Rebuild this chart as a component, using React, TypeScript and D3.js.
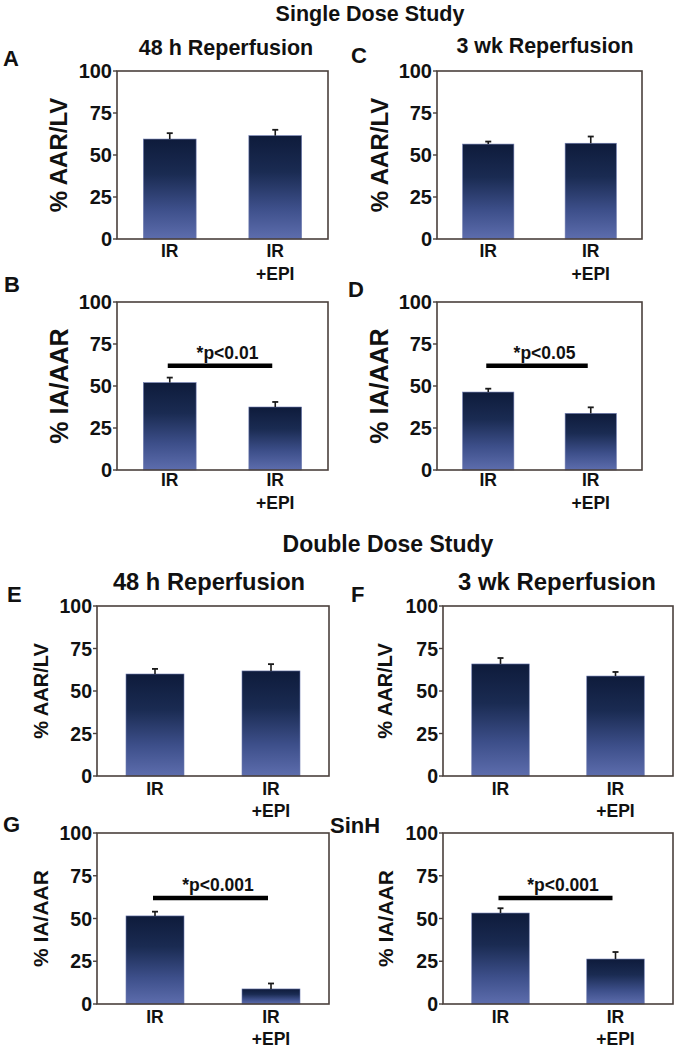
import React from "react";
import * as d3 from "d3";

// ---------- data ----------
const categories = ["IR", "IR+EPI"];
const yTicks = [0, 25, 50, 75, 100];

const meansA = [59.5, 61.5];
const semA = [3.5, 3.5];
const meansB = [52, 37.5];
const semB = [3, 3];
const meansC = [56.5, 57];
const semC = [1.5, 4];
const meansD = [46.4, 33.7];
const semD = [2, 3.6];
const meansE = [60, 61.8];
const semE = [3, 4];
const meansF = [65.9, 58.8];
const semF = [3.5, 2.4];
const meansG = [51.5, 8.8];
const semG = [2.5, 3.2];
const meansH = [53.2, 26.3];
const semH = [2.8, 4.1];

const sigLabels = ["*p<0.01", "*p<0.05", "*p<0.001", "*p<0.001"];
const sigLevel = 62;

const FONT = "'Liberation Sans', Arial, Helvetica, sans-serif";
const HEAD_FONT = "'Liberation Sans', Arial, sans-serif";

type PanelProps = {
  id: string;
  x0: number; x1: number; y0: number; y1: number;
  letter: string; letterX: number; letterY: number;
  title?: string; titleX?: number; titleY?: number; titleSize?: number;
  ylabel: string; ylabelX: number; ylabelSize: number;
  tickSize: number;
  cat1: number; cat2: number;
  means: number[]; sems: number[];
  sig?: string;
};

function Panel(p: PanelProps) {
  const x = d3.scaleBand<string>().domain(categories).range([p.x0, p.x1]).paddingInner(0.5).paddingOuter(0.25);
  const y = d3.scaleLinear().domain([0, 100]).range([p.y1, p.y0]);
  const bw = x.bandwidth();
  const c1 = (x(categories[0]) as number) + bw / 2;
  const c2 = (x(categories[1]) as number) + bw / 2;
  const gid = "grad-" + p.id;
  return (
    <g>
      <defs>
        <linearGradient id={gid} x1="0" y1="0" x2="0" y2="1">
          <stop offset="0" stopColor="#0e1b3b" />
          <stop offset="0.35" stopColor="#1a2b52" />
          <stop offset="0.7" stopColor="#3d4f8a" />
          <stop offset="1" stopColor="#5d6dad" />
        </linearGradient>
      </defs>
      <text x={p.letterX} y={p.letterY} fontFamily={FONT} fontWeight="bold" fontSize={22} fill="#111">{p.letter}</text>
      {p.title && (
        <text x={p.titleX} y={p.titleY} textAnchor="middle" fontFamily={FONT} fontWeight="bold" fontSize={p.titleSize} fill="#111">{p.title}</text>
      )}
      <text transform={`translate(${p.ylabelX},${(p.y0 + p.y1) / 2}) rotate(-90)`} textAnchor="middle" fontFamily={FONT} fontWeight="bold" fontSize={p.ylabelSize} fill="#111">{p.ylabel}</text>
      {categories.map((c, i) => {
        const bx = x(c) as number;
        const m = p.means[i];
        const s = p.sems[i];
        const cx = bx + bw / 2;
        return (
          <g key={c}>
            <rect x={bx} y={y(m)} width={bw} height={y(0) - y(m)} fill={`url(#${gid})`} stroke="#6d7ab0" strokeWidth={0.6} />
            <line x1={cx} x2={cx} y1={y(m)} y2={y(m + s)} stroke="#1a1a1a" strokeWidth={1.6} />
            <line x1={cx - 3} x2={cx + 3} y1={y(m + s)} y2={y(m + s)} stroke="#1a1a1a" strokeWidth={1.8} />
          </g>
        );
      })}
      <rect x={p.x0} y={p.y0} width={p.x1 - p.x0} height={p.y1 - p.y0} fill="none" stroke="#4a403c" strokeWidth={1.6} />
      {yTicks.map((t) => (
        <g key={t}>
          <line x1={p.x0 - 4} x2={p.x0} y1={y(t)} y2={y(t)} stroke="#4a403c" strokeWidth={1.4} />
          <text x={p.x0 - 5} y={y(t)} dy="0.36em" textAnchor="end" fontFamily={FONT} fontWeight="bold" fontSize={p.tickSize} fill="#111">{t}</text>
        </g>
      ))}
      <text x={c1} y={p.y1 + p.cat1} textAnchor="middle" fontFamily={FONT} fontWeight="bold" fontSize={17.5} fill="#111">IR</text>
      <text x={c2} y={p.y1 + p.cat1} textAnchor="middle" fontFamily={FONT} fontWeight="bold" fontSize={17.5} fill="#111">IR</text>
      <text x={c2} y={p.y1 + p.cat2} textAnchor="middle" fontFamily={FONT} fontWeight="bold" fontSize={17.5} fill="#111">+EPI</text>
      {p.sig && (
        <g>
          <line x1={c1 - 2} x2={c2 - 3} y1={y(sigLevel)} y2={y(sigLevel)} stroke="#000" strokeWidth={4.5} />
          <text x={(c1 + c2) / 2 + 5} y={y(sigLevel) - 7} textAnchor="middle" fontFamily={FONT} fontWeight="bold" fontSize={17.5} fill="#111">{p.sig}</text>
        </g>
      )}
    </g>
  );
}

export default function App() {
  return (
    <svg width={678} height={1050} style={{ position: "absolute", left: 0, top: 0, background: "#fff" }}>
      <rect width={678} height={1050} fill="#fff" />
      <text x={370} y={21} textAnchor="middle" fontFamily={HEAD_FONT} fontWeight="bold" fontSize={21.5} fill="#111">Single Dose Study</text>
      <text x={388} y={552} textAnchor="middle" fontFamily={HEAD_FONT} fontWeight="bold" fontSize={23} fill="#111">Double Dose Study</text>

      <Panel id="A" x0={117} x1={328} y0={71} y1={239} letter="A" letterX={3} letterY={66}
        title="48 h Reperfusion" titleX={226} titleY={55} titleSize={21.5}
        ylabel="% AAR/LV" ylabelX={67} ylabelSize={24} tickSize={20} cat1={18} cat2={41}
        means={meansA} sems={semA} />
      <Panel id="C" x0={437} x1={642} y0={71} y1={239} letter="C" letterX={351} letterY={63}
        title="3 wk Reperfusion" titleX={545} titleY={53} titleSize={21.4}
        ylabel="% AAR/LV" ylabelX={388} ylabelSize={24} tickSize={20} cat1={18} cat2={41}
        means={meansC} sems={semC} />
      <Panel id="B" x0={117} x1={328} y0={302} y1={470} letter="B" letterX={4} letterY={292}
        ylabel="% IA/AAR" ylabelX={68} ylabelSize={25} tickSize={20} cat1={16} cat2={39}
        means={meansB} sems={semB} sig={sigLabels[0]} />
      <Panel id="D" x0={437} x1={642} y0={302} y1={470} letter="D" letterX={348} letterY={297}
        ylabel="% IA/AAR" ylabelX={388} ylabelSize={25} tickSize={20} cat1={16} cat2={39}
        means={meansD} sems={semD} sig={sigLabels[1]} />
      <Panel id="E" x0={97} x1={329} y0={606} y1={776} letter="E" letterX={7} letterY={602}
        title="48 h Reperfusion" titleX={209} titleY={590} titleSize={23.7}
        ylabel="% AAR/LV" ylabelX={48} ylabelSize={20} tickSize={19.5} cat1={19} cat2={41}
        means={meansE} sems={semE} />
      <Panel id="F" x0={443} x1={673} y0={606} y1={776} letter="F" letterX={351} letterY={602}
        title="3 wk Reperfusion" titleX={557} titleY={590} titleSize={23.9}
        ylabel="% AAR/LV" ylabelX={392} ylabelSize={20} tickSize={19.5} cat1={19} cat2={41}
        means={meansF} sems={semF} />
      <Panel id="G" x0={97} x1={329} y0={833} y1={1004} letter="G" letterX={3} letterY={832}
        ylabel="% IA/AAR" ylabelX={48} ylabelSize={21} tickSize={19.5} cat1={19} cat2={41}
        means={meansG} sems={semG} sig={sigLabels[2]} />
      <Panel id="H" x0={443} x1={673} y0={833} y1={1004} letter="SinH" letterX={330} letterY={833}
        ylabel="% IA/AAR" ylabelX={393} ylabelSize={21} tickSize={19.5} cat1={19} cat2={41}
        means={meansH} sems={semH} sig={sigLabels[3]} />
    </svg>
  );
}
